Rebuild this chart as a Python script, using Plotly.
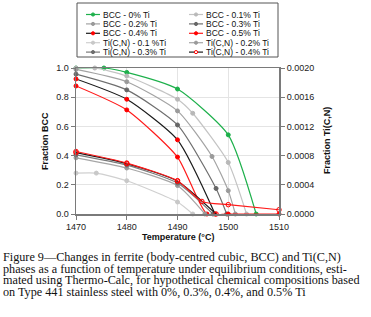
import plotly.graph_objects as go

# ---------------- data ----------------
bcc0_t = [1470, 1475.5, 1480, 1490, 1500, 1505.5]
bcc0_v = [1.0, 1.0, 0.97, 0.856, 0.542, 0.0]

bcc01_t = [1470, 1473.7, 1480, 1490, 1493, 1500, 1503.6]
bcc01_v = [1.0, 1.0, 0.945, 0.786, 0.69, 0.353, 0.0]

bcc02_t = [1470, 1480, 1490, 1496.8, 1500, 1501.4]
bcc02_v = [0.99, 0.906, 0.706, 0.394, 0.16, 0.0]

bcc03_t = [1470, 1480, 1490, 1497.6, 1499.7]
bcc03_v = [0.958, 0.85, 0.61, 0.175, 0.0]

bcc04_t = [1470, 1480, 1490, 1497.4]
bcc04_v = [0.925, 0.786, 0.508, 0.0]

bcc05_t = [1470, 1480, 1490, 1495.8, 1500, 1510]
bcc05_v = [0.877, 0.713, 0.39, 0.0, 0.0, 0.0]

tin01_t = [1470, 1474, 1480, 1490, 1493]
tin01_v = [0.00056, 0.00056, 0.000456, 0.000164, 0.0]

tin02_t = [1470, 1480, 1490, 1495.4]
tin02_v = [0.00077, 0.00063, 0.00039, 0.0]

tin03_t = [1470, 1480, 1490, 1497]
tin03_v = [0.00081, 0.00067, 0.000424, 0.0]

tin04_t = [1470, 1480, 1490, 1497.6]
tin04_v = [0.00084, 0.00069, 0.00045, 0.0]

tin05_t = [1470, 1480, 1490, 1494.8, 1500, 1510]
tin05_v = [0.000856, 0.000698, 0.000456, 0.000172, 0.000128, 0.000058]

x_ticks = [1470, 1480, 1490, 1500, 1510]
y_ticks = [0.0, 0.2, 0.4, 0.6, 0.8, 1.0]
y2_ticks = [0.0, 0.0004, 0.0008, 0.0012, 0.0016, 0.0020]

caption_lines = [
    "Figure 9\u2014Changes in ferrite (body-centred cubic, BCC) and Ti(C,N)",
    "phases as a function of temperature under equilibrium conditions, esti-",
    "mated using Thermo-Calc, for hypothetical chemical compositions based",
    "on Type 441 stainless steel with 0%, 0.3%, 0.4%, and 0.5% Ti",
]

# ---------------- styles ----------------
series = [
    # name, t, v, axis, line colour, marker colour, marker symbol, in legend
    ("BCC - 0% Ti", bcc0_t, bcc0_v, "y", "#1db04b", "#1db04b", "circle", True),
    ("BCC - 0.1% Ti", bcc01_t, bcc01_v, "y", "#c4c4c4", "#b8b8b8", "circle", True),
    ("BCC - 0.2% Ti", bcc02_t, bcc02_v, "y", "#a3a3a3", "#9a9a9a", "circle", True),
    ("BCC - 0.3% Ti", bcc03_t, bcc03_v, "y", "#6e6e6e", "#666666", "circle", True),
    ("BCC - 0.4% Ti", bcc04_t, bcc04_v, "y", "#1a1a1a", "#ff0000", "circle", True),
    ("BCC - 0.5% Ti", bcc05_t, bcc05_v, "y", "#ff1a1a", "#ff0000", "circle", True),
    ("Ti(C,N) - 0.1 %Ti", tin01_t, tin01_v, "y2", "#d0d0d0", "#c8c8c8", "circle", True),
    ("Ti(C,N) - 0.2% Ti", tin02_t, tin02_v, "y2", "#a6a6a6", "#9a9a9a", "circle", True),
    ("Ti(C,N) - 0.3% Ti", tin03_t, tin03_v, "y2", "#7a7a7a", "#6e6e6e", "circle", True),
    ("Ti(C,N) - 0.4% Ti", tin04_t, tin04_v, "y2", "#1a1a1a", "#ff0000", "circle-open", True),
    ("Ti(C,N) - 0.5% Ti", tin05_t, tin05_v, "y2", "#ff1a1a", "#ff0000", "circle-open", False),
]

W, H = 371, 317
L, R, T, B = 76, 279, 68, 214  # plot area in pixels


def px2x(px):
    return (px - L) / (R - L)


def py2y(py):
    return (B - py) / (B - T)


fig = go.Figure()
for name, t, v, ax, lc, mc, sym, _ in series:
    fig.add_trace(go.Scatter(
        x=t, y=v, name=name, yaxis=ax, mode="lines+markers",
        line=dict(color=lc, width=1.2, shape="spline", smoothing=0.6),
        marker=dict(color=mc, size=4.5 if "open" in sym else 4, symbol=sym,
                    line=dict(color=mc, width=1)),
        cliponaxis=False, showlegend=False,
    ))

shapes = []
annotations = []

# legend box
shapes.append(dict(type="rect", xref="paper", yref="paper",
                   x0=px2x(77), x1=px2x(278), y0=py2y(57), y1=py2y(3),
                   line=dict(color="#555555", width=1), fillcolor="white"))
leg_items = [s for s in series if s[7]]
row_y = [14.5, 23.9, 33.3, 42.7, 52.1]
col_x = [86, 189]
for i, (name, t, v, ax, lc, mc, sym, _) in enumerate(leg_items):
    r, c = divmod(i, 2)
    x0 = col_x[c]
    y = row_y[r]
    shapes.append(dict(type="line", xref="paper", yref="paper",
                       x0=px2x(x0), x1=px2x(x0 + 14), y0=py2y(y), y1=py2y(y),
                       line=dict(color=lc, width=1.2)))
    rr = 1.6
    shapes.append(dict(type="circle", xref="paper", yref="paper",
                       x0=px2x(x0 + 7 - rr), x1=px2x(x0 + 7 + rr),
                       y0=py2y(y + rr), y1=py2y(y - rr),
                       line=dict(color=mc, width=1),
                       fillcolor="white" if "open" in sym else mc))
    annotations.append(dict(xref="paper", yref="paper", x=px2x(x0 + 15), y=py2y(y),
                            text=name, showarrow=False, xanchor="left", yanchor="middle",
                            font=dict(family="Liberation Sans, Arial", size=8.5, color="#111111")))

# axis titles
annotations.append(dict(xref="paper", yref="paper", x=px2x(45), y=py2y(141),
                        text="<b>Fraction BCC</b>", textangle=-90, showarrow=False,
                        xanchor="center", yanchor="middle",
                        font=dict(family="Liberation Sans, Arial", size=9, color="#111111")))
annotations.append(dict(xref="paper", yref="paper", x=px2x(327), y=py2y(141),
                        text="<b>Fraction Ti(C,N)</b>", textangle=-90, showarrow=False,
                        xanchor="center", yanchor="middle",
                        font=dict(family="Liberation Sans, Arial", size=9, color="#111111")))
annotations.append(dict(xref="paper", yref="paper", x=px2x(177.5), y=py2y(237),
                        text="<b>Temperature (°C)</b>", showarrow=False,
                        xanchor="center", yanchor="middle",
                        font=dict(family="Liberation Sans, Arial", size=9, color="#111111")))

# caption
cap_y = [257.0, 268.7, 280.4, 292.0]
for line, cy in zip(caption_lines, cap_y):
    annotations.append(dict(xref="paper", yref="paper", x=px2x(0.5), y=py2y(cy),
                            text=line, showarrow=False, xanchor="left", yanchor="middle",
                            font=dict(family="Liberation Serif, Times New Roman", size=12.2,
                                      color="#111111")))

axis_font = dict(family="Liberation Sans, Arial", size=9, color="#222222")
fig.update_layout(
    width=W, height=H,
    margin=dict(l=L, r=W - R, t=T, b=H - B, pad=0),
    paper_bgcolor="white", plot_bgcolor="white",
    showlegend=False,
    xaxis=dict(range=[1470, 1510], tickvals=x_ticks, showgrid=True, gridcolor="#e4e4e4",
               gridwidth=1, zeroline=False, showline=True, linecolor="#7a7a7a", linewidth=1.5,
               mirror=True, ticks="outside", ticklen=4, tickcolor="#7a7a7a",
               tickfont=axis_font, fixedrange=True),
    yaxis=dict(range=[0, 1], tickvals=y_ticks, tickformat=".1f", showgrid=True,
               gridcolor="#e4e4e4", gridwidth=1, zeroline=False, showline=True,
               linecolor="#7a7a7a", linewidth=1.5, ticks="outside", ticklen=4,
               tickcolor="#7a7a7a", tickfont=axis_font),
    yaxis2=dict(range=[0, 0.002], tickvals=y2_ticks, tickformat=".4f", overlaying="y",
                side="right", showgrid=False, zeroline=False, showline=True,
                linecolor="#7a7a7a", linewidth=2, ticks="outside", ticklen=4,
                tickcolor="#7a7a7a", tickfont=axis_font),
    shapes=shapes,
    annotations=annotations,
)

fig.write_html("out.html",
               config={"displayModeBar": False, "staticPlot": True},
               post_script="document.body.style.margin='0';document.body.style.overflow='hidden';")
